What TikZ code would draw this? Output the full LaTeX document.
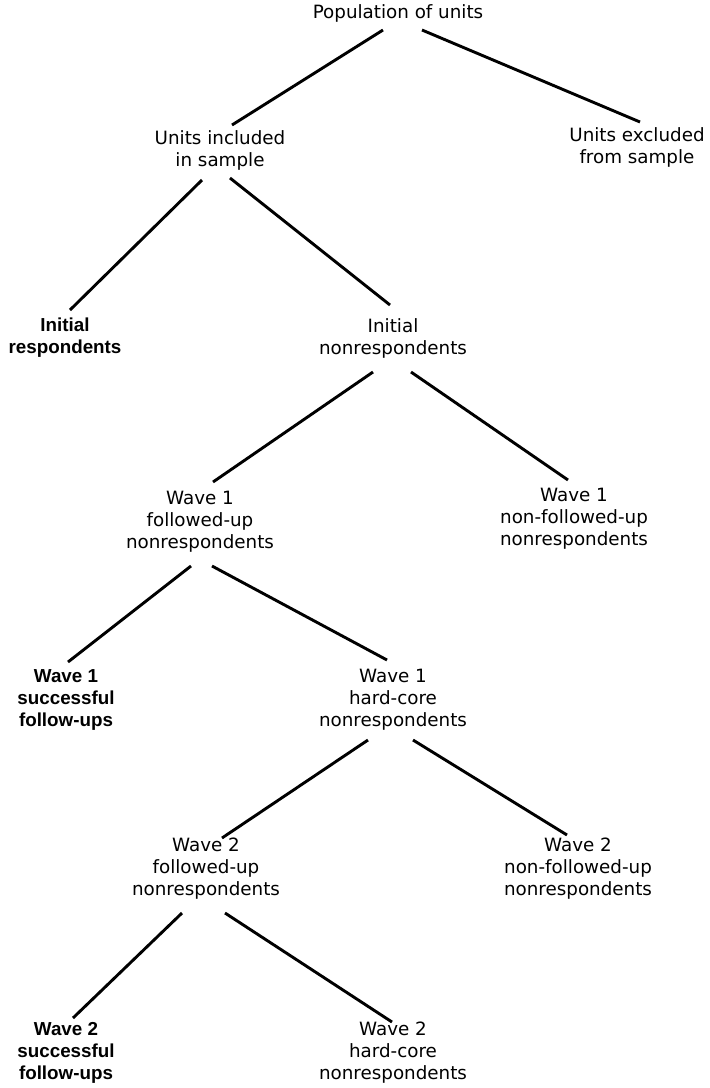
\documentclass[tikz,border=0pt]{standalone}
\usepackage{fontspec}
\setmainfont{DejaVu Sans}
\newfontfamily\heavyfam{Liberation Sans}
\usepackage{tikz}

\tikzset{
  unit/.style={align=center, inner sep=0pt, font=\fontsize{18.3}{22}\selectfont},
  final/.style={unit, font=\heavyfam\bfseries\fontsize{18.8}{22}\selectfont},
  branch/.style={line width=2.9pt}
}

\begin{document}
\begin{tikzpicture}[x=1pt, y=-1pt]
	\useasboundingbox (0,0) rectangle (710,1088);
	\node[unit] at (398, 13) (pop) {Population of units};
	\node[unit] at (220, 150) (incl) {Units included\\in sample};
	\node[unit] at (637, 147) (excl) {Units excluded\\from sample};
	\node[final] at (65, 338) (iresp) {Initial\\respondents};
	\node[unit] at (393, 338) (inonr) {Initial\\nonrespondents};
	\node[unit] at (200, 522) (w1fu) {Wave 1\\followed-up\\nonrespondents};
	\node[unit] at (574, 519) (w1nfu) {Wave 1\\non-followed-up\\nonrespondents};
	\node[final] at (66, 700) (w1succ) {Wave 1\\successful\\follow-ups};
	\node[unit] at (393, 700) (w1hc) {Wave 1\\hard-core\\nonrespondents};
	\node[unit] at (206, 869) (w2fu) {Wave 2\\followed-up\\nonrespondents};
	\node[unit] at (578, 869) (w2nfu) {Wave 2\\non-followed-up\\nonrespondents};
	\node[final] at (66, 1053) (w2succ) {Wave 2\\successful\\follow-ups};
	\node[unit] at (393, 1053) (w2hc) {Wave 2\\hard-core\\nonrespondents};

	\draw[branch] ([shift={(-15,17)}]pop.center) -- ([shift={(12,-25)}]incl.center);
	\draw[branch] ([shift={(24,17)}]pop.center) -- ([shift={(3,-25)}]excl.center);
	\draw[branch] ([shift={(-18,30)}]incl.center) -- ([shift={(5,-28)}]iresp.center);
	\draw[branch] ([shift={(10,28)}]incl.center) -- ([shift={(-3,-33)}]inonr.center);
	\draw[branch] ([shift={(-20,34)}]inonr.center) -- ([shift={(13,-40)}]w1fu.center);
	\draw[branch] ([shift={(18,34)}]inonr.center) -- ([shift={(-6,-39)}]w1nfu.center);
	\draw[branch] ([shift={(-9,44)}]w1fu.center) -- ([shift={(2,-38)}]w1succ.center);
	\draw[branch] ([shift={(12,44)}]w1fu.center) -- ([shift={(-6,-40)}]w1hc.center);
	\draw[branch] ([shift={(-25,40)}]w1hc.center) -- ([shift={(16,-31)}]w2fu.center);
	\draw[branch] ([shift={(20,40)}]w1hc.center) -- ([shift={(-11,-34)}]w2nfu.center);
	\draw[branch] ([shift={(-24,44)}]w2fu.center) -- ([shift={(7,-35)}]w2succ.center);
	\draw[branch] ([shift={(19,44)}]w2fu.center) -- ([shift={(-1,-31)}]w2hc.center);
\end{tikzpicture}
\end{document}
